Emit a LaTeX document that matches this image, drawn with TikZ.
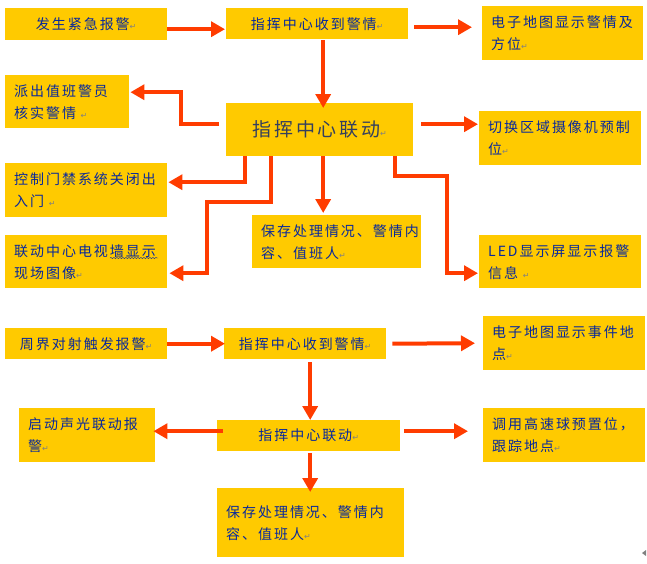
\documentclass[tikz,border=0pt]{standalone}
\usepackage{fontspec}
\usepackage{tikz}
\usetikzlibrary{arrows.meta,decorations.pathmorphing}
\newfontfamily\cjk[LetterSpace=14]{Noto Sans CJK SC}
\newfontfamily\symfont{DejaVu Sans}
\definecolor{boxyellow}{HTML}{FFCA00}
\definecolor{arrowred}{HTML}{FF3C00}
\definecolor{textblue}{HTML}{08289C}
\definecolor{bigtext}{HTML}{343F5E}
\newcommand\retmark{{\color{gray}\symfont\fontsize{8}{8}\selectfont ↵}}% Word paragraph mark
\tikzset{
  box/.style={fill=boxyellow, anchor=north west, inner xsep=9pt, inner ysep=0pt, text=textblue, font=\cjk\fontsize{14}{22}\selectfont},
  onebox/.style={box, align=center},
  twobox/.style={box, align=left},
  arr/.style={draw=arrowred, line width=4pt, -{Triangle[length=14pt,width=15pt]}},
}

\begin{document}
\begin{tikzpicture}[x=1pt,y=-1pt]
			\useasboundingbox (0,0) rectangle (647,563);
			%top part
			\node[onebox, minimum width=162, minimum height=32, text width=144] (fasheng) at (5,8) {发生紧急报警\retmark};
			\node[onebox, minimum width=182, minimum height=31, text width=164] (shoudao) at (226,8) {指挥中心收到警情\retmark};
			\node[twobox, minimum width=161, minimum height=54, text width=143] (ditu) at (482,6) {电子地图显示警情及\\方位\retmark};
			\node[twobox, minimum width=124, minimum height=53, text width=106] (paichu) at (5,75) {派出值班警员\\核实警情 \retmark};
			\node[onebox, minimum width=187, minimum height=53, text width=169, text=bigtext, font=\cjk\fontsize{19}{22}\selectfont] (liandong) at (226,103) {指挥中心联动\retmark};
			\node[twobox, minimum width=162, minimum height=54, text width=144] (qiehuan) at (479,111) {切换区域摄像机预制\\位\retmark};
			\node[twobox, minimum width=162, minimum height=54, text width=144] (menjin) at (5,163) {控制门禁系统关闭出\\入门 \retmark};
			\node[twobox, minimum width=169, minimum height=53, text width=151] (baocun) at (252,215) {保存处理情况、警情内\\容、值班人\retmark};
			\node[twobox, minimum width=162, minimum height=53, text width=144] (dianshi) at (5,235) {联动中心电视墙显示\\现场图像\retmark};
			\node[twobox, minimum width=162, minimum height=53, text width=144] (led) at (479,235) {LED显示屏显示报警\\信息 \retmark};
			\draw[textblue, decorate, decoration={snake, amplitude=0.6pt, segment length=3pt}] (110,258) -- (158,258);
			%bottom part
			\node[onebox, minimum width=162, minimum height=31, text width=144] (zhoujie) at (5,328) {周界对射触发报警\retmark};
			\node[onebox, minimum width=162, minimum height=31, text width=144] (shoudaob) at (224,328) {指挥中心收到警情\retmark};
			\node[twobox, minimum width=162, minimum height=54, text width=144] (ditub) at (483,316) {电子地图显示事件地\\点\retmark};
			\node[twobox, minimum width=136, minimum height=54, text width=118] (qidong) at (19,408) {启动声光联动报\\警\retmark};
			\node[onebox, minimum width=183, minimum height=31, text width=165] (liandongb) at (217,420) {指挥中心联动\retmark};
			\node[twobox, minimum width=162, minimum height=54, text width=144] (diaoyong) at (483,408) {调用高速球预置位，\\跟踪地点\retmark};
			\node[twobox, minimum width=187, minimum height=69, text width=169] (baocunb) at (217,488) {保存处理情况、警情内\\容、值班人\retmark};
			\fill[gray] (642,553) -- (646,550) -- (646,556) -- cycle;
			%top arrows
			\draw[arr] ([shift={(0,5)}]fasheng.east) -- ([shift={(-1,5.5)}]shoudao.west);
			\draw[arr] ([shift={(6,3.5)}]shoudao.east) -- ([shift={(-10,-6)}]ditu.west);
			\draw[arr] ([shift={(6,1)}]shoudao.south) -- ([shift={(3.5,5)}]liandong.north);
			\draw[arr] ([shift={(-7,-5.5)}]liandong.west) -- ++(-38,0) |- ([shift={(1,-9.5)}]paichu.east);
			\draw[arr] ([shift={(8,-5.5)}]liandong.east) -- ([shift={(-1,-14)}]qiehuan.west);
			\draw[arr] ([shift={(-74.5,0)}]liandong.south) |- ([shift={(1,-8)}]menjin.east);
			\draw[arr] ([shift={(-48.5,0)}]liandong.south) -- ++(0,46) -- ++(-64,0) |- ([shift={(2,11.5)}]dianshi.east);
			\draw[arr] ([shift={(3.5,0)}]liandong.south) -- ([shift={(-13.5,-2)}]baocun.north);
			\draw[arr] ([shift={(75.5,0)}]liandong.south) -- ++(0,20) -- ++(52,0) |- ([shift={(-1,11.5)}]led.west);
			%bottom arrows
			\draw[arr] (zhoujie.east) -- ([shift={(1,0)}]shoudaob.west);
			\draw[arr] ([shift={(6,0)}]shoudaob.east) -- ([shift={(-8,0)}]ditub.west);
			\draw[arr] ([shift={(5,3)}]shoudaob.south) -- ([shift={(1.5,0)}]liandongb.north);
			\draw[arr] ([shift={(6,-4.5)}]liandongb.west) -- ([shift={(-2,-4)}]qidong.east);
			\draw[arr] ([shift={(4,-4.5)}]liandongb.east) -- ([shift={(-15,-4)}]diaoyong.west);
			\draw[arr] ([shift={(1.5,2)}]liandongb.south) -- ([shift={(-0.5,4)}]baocunb.north);
\end{tikzpicture}
\end{document}
